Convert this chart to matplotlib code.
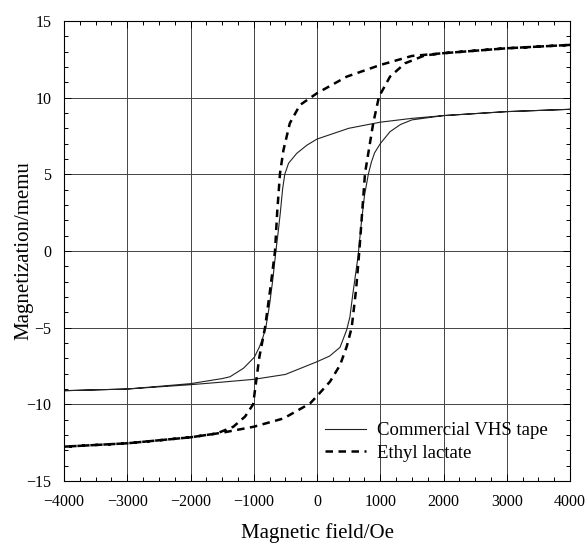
import matplotlib.pyplot as plt
from matplotlib.ticker import MultipleLocator

plt.rcParams['font.family'] = ['Liberation Serif', 'DejaVu Serif']
plt.rcParams['axes.linewidth'] = 0.8

# Commercial VHS tape: descending branch (+H -> -H)
vhs_down_h = [4000, 3000, 2000, 1500, 1000, 500, 0, -160, -320, -450, -510,
              -545, -580, -615, -650, -700, -750, -810, -860, -910, -991,
              -1164, -1375, -1500, -2000, -3000, -4000]
vhs_down_m = [9.24, 9.09, 8.83, 8.65, 8.40, 8.00, 7.30, 6.90, 6.37, 5.72, 5.00,
              4.00, 2.50, 1.20, 0.00, -1.90, -3.50, -5.00, -5.70, -6.25, -6.93,
              -7.65, -8.20, -8.32, -8.65, -9.00, -9.11]

# Commercial VHS tape: ascending branch (-H -> +H)
vhs_up_h = [-4000, -3000, -2000, -1500, -1000, -500, 0, 200, 364, 469, 520,
            560, 600, 650, 700, 750, 811, 860, 910, 1000, 1154, 1320, 1500,
            2000, 3000, 4000]
vhs_up_m = [-9.11, -9.00, -8.72, -8.55, -8.37, -8.05, -7.22, -6.85, -6.28, -5.15,
            -4.30, -3.00, -1.80, -0.30, 1.80, 3.60, 5.00, 5.80, 6.40, 7.00, 7.78,
            8.25, 8.55, 8.83, 9.09, 9.24]

# Ethyl lactate: descending branch
el_down_h = [4000, 3000, 2000, 1500, 1000, 470, 0, -270, -430, -530, -585,
             -630, -664, -740, -822, -912, -1010, -1138, -1323, -1586, -2000,
             -3000, -4000]
el_down_m = [13.44, 13.22, 12.90, 12.72, 12.13, 11.37, 10.29, 9.52, 8.33, 6.59,
             5.07, 2.50, 0.00, -2.50, -5.00, -6.93, -10.00, -10.80, -11.46,
             -11.90, -12.15, -12.54, -12.76]

# Ethyl lactate: ascending branch
el_up_h = [-4000, -3000, -2000, -1500, -1000, -530, -110, 0, 205, 364, 469,
           548, 617, 669, 759, 890, 980, 1154, 1391, 1700, 2000, 3000, 4000]
el_up_m = [-12.76, -12.54, -12.15, -11.85, -11.46, -10.92, -9.94, -9.46, -8.52,
           -7.44, -6.24, -5.00, -2.54, 0.00, 5.07, 8.37, 10.07, 11.37, 12.24,
           12.75, 12.90, 13.22, 13.44]

fig = plt.figure(figsize=(5.85, 5.45), dpi=100, facecolor='white')
ax = fig.add_axes([0.1094, 0.1174, 0.865, 0.8441])

ax.plot(vhs_down_h + vhs_up_h, vhs_down_m + vhs_up_m, color='#222222',
        linewidth=0.8, label='Commercial VHS tape')
ax.plot(el_down_h + el_up_h, el_down_m + el_up_m, color='black',
        linewidth=1.8, dashes=(3, 2.2), label='Ethyl lactate')

ax.set_xlim(-4000, 4000)
ax.set_ylim(-15, 15)
ax.xaxis.set_major_locator(MultipleLocator(1000))
ax.xaxis.set_minor_locator(MultipleLocator(250))
ax.yaxis.set_major_locator(MultipleLocator(5))
ax.yaxis.set_minor_locator(MultipleLocator(1))
ax.tick_params(which='both', direction='in', top=True, right=True,
               labelsize=11.5, width=0.7)
ax.tick_params(which='major', length=5, pad=9)
ax.tick_params(which='minor', length=3)
ax.grid(True, which='major', color='#444444', linewidth=0.7)
ax.set_axisbelow(True)

ax.set_xlabel('Magnetic field/Oe', fontsize=15, labelpad=10)
ax.set_ylabel('Magnetization/memu', fontsize=15)
ax.yaxis.set_label_coords(-0.06, 0.5)

ax.legend(loc='lower right', bbox_to_anchor=(0.99, 0.005), frameon=False,
          fontsize=13.5, handlelength=2.2, handletextpad=0.6, labelspacing=0.3)

fig.savefig('out.png', dpi=100, facecolor='white')
